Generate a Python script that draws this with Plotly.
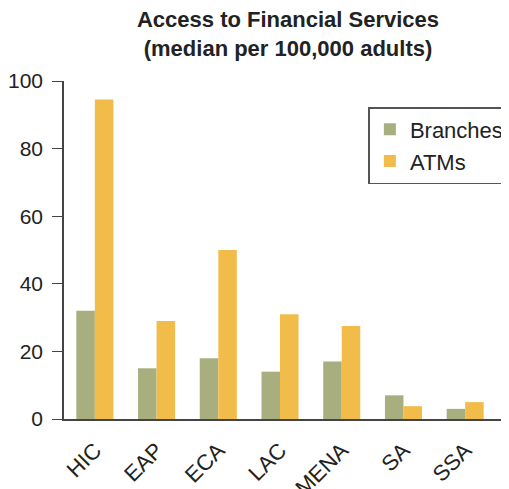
import plotly.graph_objects as go

categories = ["HIC", "EAP", "ECA", "LAC", "MENA", "SA", "SSA"]
branches = [32, 15, 18, 14, 17, 7, 3]
atms = [94.5, 29, 50, 31, 27.5, 3.8, 5]
y_ticks = [0, 20, 40, 60, 80, 100]

font_family = "Liberation Sans, Arial, Helvetica, sans-serif"

fig = go.Figure()
fig.add_trace(go.Bar(name="Branches", x=categories, y=branches, marker_color="#A8AE7E",
                     marker_line_width=0))
fig.add_trace(go.Bar(name="ATMs", x=categories, y=atms, marker_color="#F1BC4A",
                     marker_line_width=0))

# page body has an 8px margin, so the figure is drawn 8px right/down
fig.update_layout(
    width=501, height=481,
    barmode="group", bargap=0.4, bargroupgap=0,
    margin=dict(l=56, r=0, t=73, b=70, autoexpand=False),
    paper_bgcolor="white", plot_bgcolor="white",
    font=dict(family=font_family, size=21, color="#222222"),
    title=dict(
        text="<b>Access to Financial Services<br>(median per 100,000 adults)</b>",
        x=(288 - 8) / 501, xanchor="center", xref="container",
        y=1 - 19 / 481, yanchor="middle", yref="container",
        font=dict(size=22, family=font_family, color="#222222"),
    ),
    legend=dict(
        x=0.684, y=0.923, xanchor="left", yanchor="top",
        bordercolor="#555555", borderwidth=1.5,
        font=dict(size=22, color="#222222"),
        bgcolor="white",
        itemwidth=30,
    ),
    xaxis=dict(
        range=[-0.5, 6.71],
        tickangle=-45,
        showline=True, linecolor="#444444", linewidth=1.5,
        ticks="", showgrid=False,
        tickfont=dict(size=22),
        ticklabelstandoff=8,
        automargin=False,
    ),
    yaxis=dict(
        range=[0, 100],
        tickvals=y_ticks,
        showline=True, linecolor="#444444", linewidth=1.5,
        ticks="outside", ticklen=10, tickcolor="#444444", tickwidth=1.2,
        showgrid=False, zeroline=False,
        tickfont=dict(size=21),
        ticklabelstandoff=5,
        automargin=False,
    ),
)

fig.write_html("out.html")
